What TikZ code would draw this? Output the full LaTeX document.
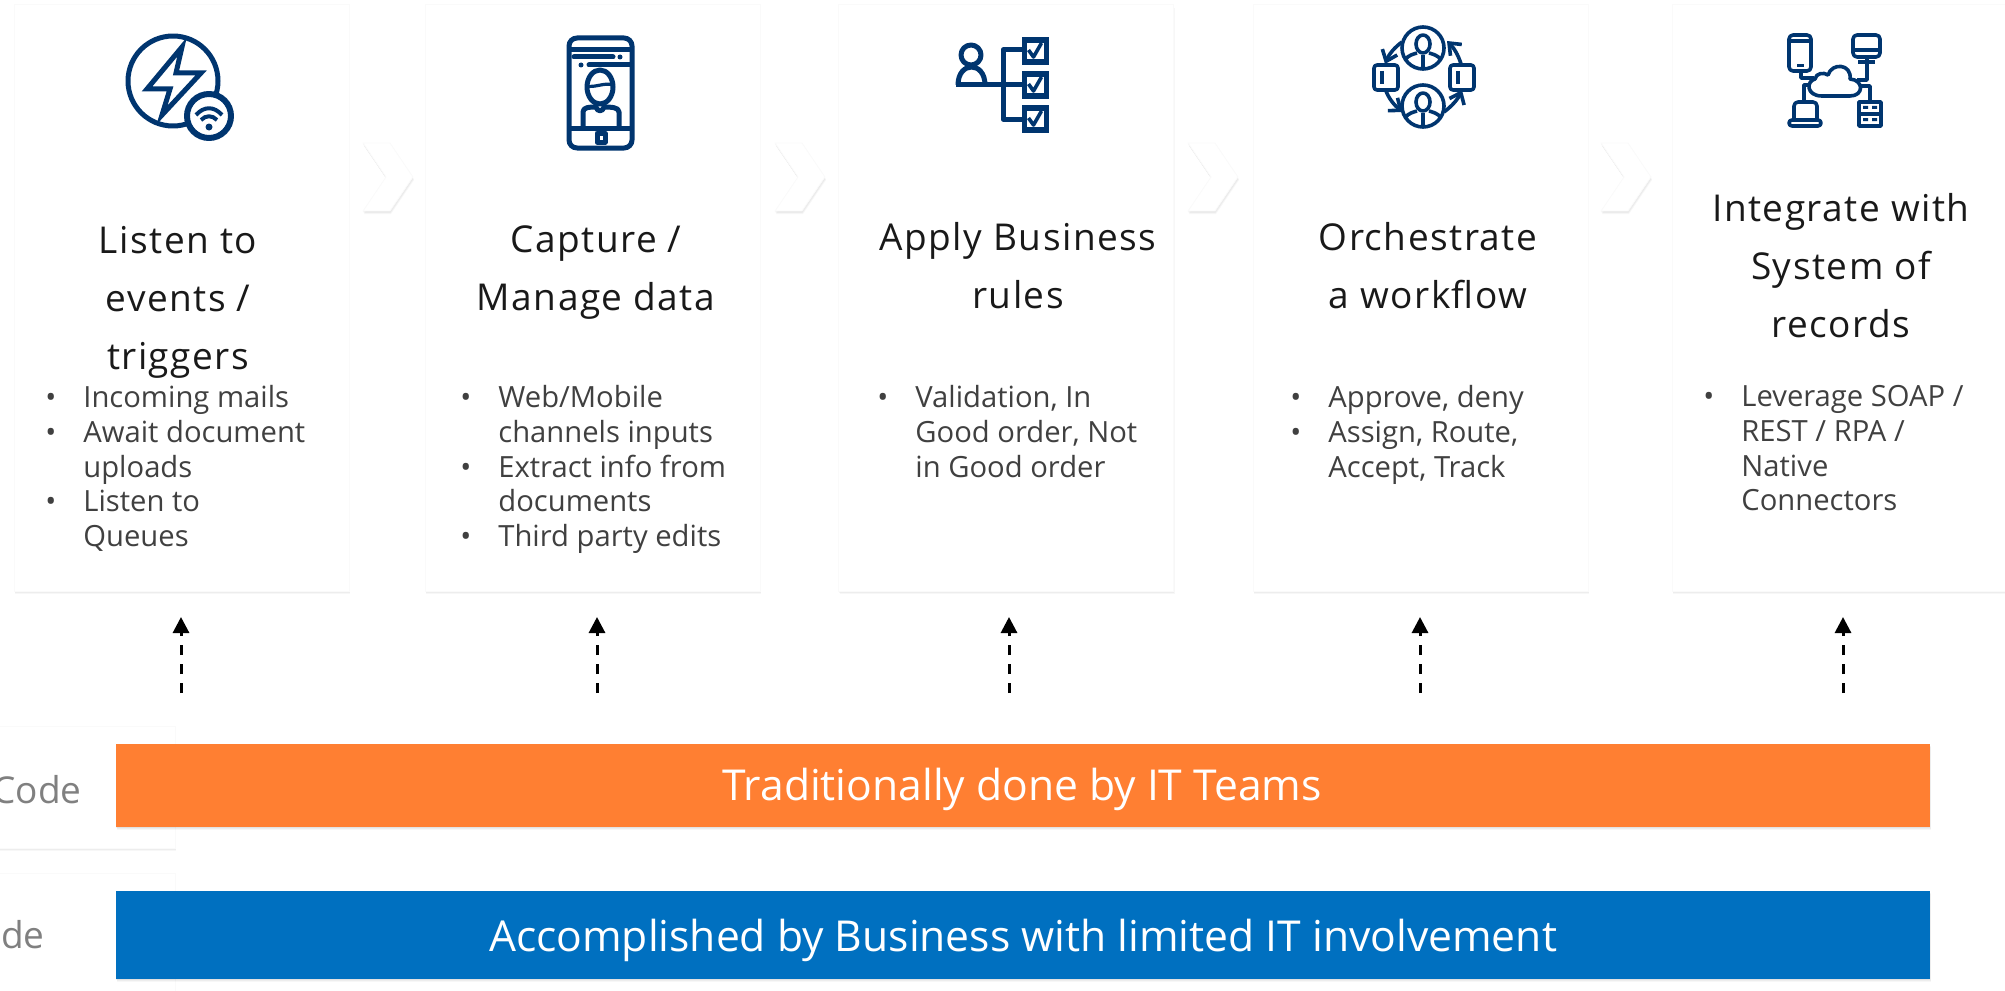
\documentclass[tikz,border=0pt]{standalone}
\usepackage{fontspec}
\setmainfont{Open Sans}
\newfontfamily\titlefont[LetterSpace=4]{Open Sans}
\usetikzlibrary{arrows.meta,shadows,positioning,calc}
\definecolor{iconblue}{HTML}{00356F}
\definecolor{barorange}{HTML}{FF7F32}
\definecolor{barblue}{HTML}{0070C0}
\definecolor{bodygrey}{HTML}{404040}
\definecolor{labelgrey}{HTML}{808080}
\newcommand{\bl}{\makebox[0pt][r]{\textbullet\hspace{13.5pt}}}
\tikzset{
    softshadow/.style={
        drop shadow={shadow xshift=0pt,shadow yshift=-0.5pt,opacity=0.05,fill=black},
        drop shadow={shadow xshift=0.3pt,shadow yshift=-1pt,opacity=0.04,fill=black},
        drop shadow={shadow xshift=0.5pt,shadow yshift=-1.5pt,opacity=0.03,fill=black}},
    cardbox/.style={fill=white,draw=black!2,line width=0.5pt,inner sep=0pt,minimum width=167.5pt,minimum height=293pt,softshadow},
    labelbox/.style={fill=white,draw=black!2,line width=0.5pt,inner sep=0pt,minimum width=167.5pt,minimum height=61pt,softshadow},
    chevron/.style={fill=white,draw=black!2,line width=0.4pt,softshadow},
    titletext/.style={align=center,inner sep=0pt,text=black!90,font=\titlefont\fontsize{18.5}{29}\selectfont},
    bodytext/.style={anchor=north west,align=left,inner sep=0pt,text=bodygrey,font=\fontsize{14.6}{17.4}\selectfont},
    bartext/.style={text=white,inner sep=0pt,font=\fontsize{21.3}{25}\selectfont},
    labeltext/.style={anchor=east,inner sep=0pt,text=labelgrey,font=\fontsize{18.5}{22}\selectfont},
    dasharrow/.style={line width=1.5pt,dash pattern=on 5pt off 4.5pt,-{Triangle[width=8pt,length=8pt]}},
    iconline/.style={draw=iconblue,line width=2.5pt,line join=round},
    thinicon/.style={draw=iconblue,line width=1.8pt,line join=round},
}
\begin{document}
\begin{tikzpicture}[x=0.5pt,y=-0.5pt]
    \clip (0,0) rectangle (2005,990);

    % Cards
    \foreach \cname/\cx in {cardA/181.5,cardB/592.5,cardC/1006,cardD/1420.5,cardE/1839.5} {
        \node[cardbox] (\cname) at (\cx,298) {};
    }

    % Chevrons between the cards
    \foreach \cx in {363,775,1188,1601} {
        \draw[chevron] (\cx,143) -- ++(27,0) -- ++(23,34) -- ++(-23,34) -- ++(-27,0) -- ++(23,-34) -- cycle;
    }

    % Left label cards, cut by the page
    \node[labelbox] (lblA) at (7.5,787) {};
    \node[labelbox,minimum height=70pt] (lblB) at (7.5,943) {};
    \node[labeltext] (lblcode) at (82,790) {Code};
    \node[labeltext] (lblde) at (45,935) {de};

    % Bars
    \node[fill=barorange,inner sep=0pt,minimum width=907pt,minimum height=41.5pt,softshadow] (barA) at (1023,785.5) {};
    \node[fill=barblue,inner sep=0pt,minimum width=907pt,minimum height=44pt,softshadow] (barB) at (1023,935) {};
    \node[bartext] (barAtext) at (1022,789) {Traditionally done by IT Teams};
    \node[bartext] (barBtext) at (1023,940) {Accomplished by Business with limited IT involvement};

    % Dashed arrows
    \foreach \aname/\ax in {A/181,B/597,C/1009,D/1420,E/1843} {
        \coordinate (from\aname) at (\ax,693);
        \coordinate (to\aname) at (\ax,617);
        \draw[dasharrow] (from\aname) -- (to\aname);
    }

    % Titles
    \node[titletext] (titleA) at (178,302) {Listen to\\events /\\triggers};
    \node[titletext] (titleB) at (596,273) {Capture /\\Manage data};
    \node[titletext] (titleC) at (1018,266) {Apply Business\\rules};
    \node[titletext] (titleD) at (1428,266) {Orchestrate\\a workflow};
    \node[titletext] (titleE) at (1841,266) {Integrate with\\System of\\records};

    % Bullet lists
    \node[bodytext] (listA) at (83,385) {\bl Incoming mails\\\bl Await document\\uploads\\\bl Listen to\\Queues};
    \node[bodytext] (listB) at (498,385) {\bl Web/Mobile\\channels inputs\\\bl Extract info from\\documents\\\bl Third party edits};
    \node[bodytext] (listC) at (915,385) {\bl Validation, In\\Good order, Not\\in Good order};
    \node[bodytext] (listD) at (1328,385) {\bl Approve, deny\\\bl Assign, Route,\\Accept, Track};
    \node[bodytext] (listE) at (1741,385) {\bl Leverage SOAP /\\REST / RPA /\\Native\\Connectors};

    % Icon: bolt and wifi
    \draw[iconline,line width=2.5pt] (173,81) circle[radius=45];
    \draw[iconline,line join=miter] (182,47) -- (147,89) -- (170,89) -- (162,115) -- (201,73) -- (176,73) -- cycle;
    \draw[iconline,fill=white,line width=3pt] (209,116) circle[radius=22];
    \draw[iconline,line width=2pt] (196,115) .. controls (204,106) and (214,106) .. (222,115);
    \draw[iconline,line width=2pt] (201,120) .. controls (206,115) and (212,115) .. (217,120);
    \fill[iconblue] (209,127) circle[radius=3.5];

    % Icon: phone
    \draw[iconline,rounded corners=4pt] (569,38) rectangle (632,148);
    \draw[iconline] (569,50) -- (632,50) (569,128) -- (632,128);
    \draw[iconline,line cap=round] (574,57) -- (613,57) (589,65) -- (631,65);
    \fill[iconblue] (620,57) circle[radius=2.5] (581,65) circle[radius=2.5];
    \draw[iconline] (600,87) ellipse[x radius=13,y radius=17];
    \draw[iconline,line width=1.6pt] (587,86) .. controls (595,88) and (605,82) .. (613,85);
    \draw[iconline] (583,128) -- (583,112) .. controls (583,107) and (590,107) .. (596,107) .. controls (597,112) and (603,112) .. (604,107)
        .. controls (610,107) and (619,107) .. (619,112) -- (619,128);
    \draw[iconline] (597,133) rectangle (605,142);

    % Icon: rules
    \draw[iconline] (971,55) ellipse[x radius=10,y radius=10];
    \draw[iconline] (958,85) .. controls (958,61) and (985,61) .. (985,85);
    \draw[iconline,line width=2.5pt] (956,85) -- (1022,85) (1022,50) -- (1003,50) -- (1003,119) -- (1022,119);
    \foreach \by/\bname in {51/chkA,85/chkB,119/chkC} {
        \node[draw=iconblue,line width=2.6pt,inner sep=0pt,minimum size=11pt] (\bname) at (1035.5,\by) {};
        \draw[iconline,line width=1.8pt] ($(\bname.center)+(-7,-1)$) -- ++(5,7) -- ++(8,-14);
    }

    % Icon: workflow
    \foreach \py in {48,106} {
        \draw[thinicon] (1423,\py) ellipse[x radius=21,y radius=21];
        \draw[thinicon] (1423,\py-4) ellipse[x radius=7,y radius=9];
        \draw[thinicon] (1405,\py+12) .. controls (1408,\py+7) and (1414,\py+6) .. (1417,\py+5);
        \draw[thinicon] (1441,\py+12) .. controls (1438,\py+7) and (1432,\py+6) .. (1429,\py+5);
        \draw[thinicon] (1423,\py+7) -- (1423,\py+21);
    }
    \foreach \rx in {1374,1450} {
        \draw[thinicon,rounded corners=1.5pt] (\rx,65) rectangle (\rx+24,90);
        \draw[thinicon] (\rx+8,71) -- (\rx+8,84);
    }
    \draw[thinicon,-{Straight Barb[length=5pt,width=8pt]}] (1402,42) .. controls (1395,47) and (1389,54) .. (1385,64);
    \draw[thinicon,{Straight Barb[length=5pt,width=8pt]}-] (1447,41) .. controls (1453,47) and (1458,54) .. (1461,64);
    \draw[thinicon,-{Straight Barb[length=5pt,width=8pt]}] (1386,91) .. controls (1389,99) and (1395,106) .. (1403,112);
    \draw[thinicon,-{Straight Barb[length=5pt,width=8pt]}] (1444,112) .. controls (1452,106) and (1458,99) .. (1462,90);

    % Icon: systems and cloud
    \draw[thinicon,rounded corners=2pt] (1789,35) rectangle (1811,71);
    \draw[thinicon] (1789,41) -- (1811,41);
    \fill[iconblue] (1797,64) rectangle (1804,67);
    \draw[thinicon,rounded corners=2pt] (1853,35) rectangle (1880,57);
    \fill[iconblue] (1853,48) rectangle (1880,52);
    \draw[thinicon] (1867,57) -- (1867,62) (1858,62) -- (1875,62);
    \draw[thinicon] (1822,96) .. controls (1806,96) and (1806,81) .. (1815,79) .. controls (1816,73) and (1824,72) .. (1828,75)
        .. controls (1832,62) and (1852,64) .. (1850,79) .. controls (1864,80) and (1864,96) .. (1850,96) -- cycle;
    \draw[thinicon] (1801,71) -- (1801,78) -- (1814,78);
    \draw[thinicon] (1867,62) -- (1867,80) -- (1857,80);
    \draw[thinicon] (1811,85) -- (1804,85) -- (1804,102);
    \draw[thinicon] (1860,86) -- (1870,86) -- (1870,101);
    \draw[thinicon,rounded corners=2pt] (1794,120) -- (1794,102) -- (1817,102) -- (1817,120);
    \draw[thinicon,rounded corners=1.5pt] (1789,120) rectangle (1821,126);
    \draw[thinicon] (1859,102) rectangle (1881,126) (1859,114) -- (1881,114);
    \fill[iconblue] (1863,106) rectangle (1868,109) (1872,106) rectangle (1877,109) (1863,118) rectangle (1868,121) (1872,118) rectangle (1877,121);
\end{tikzpicture}
\end{document}
